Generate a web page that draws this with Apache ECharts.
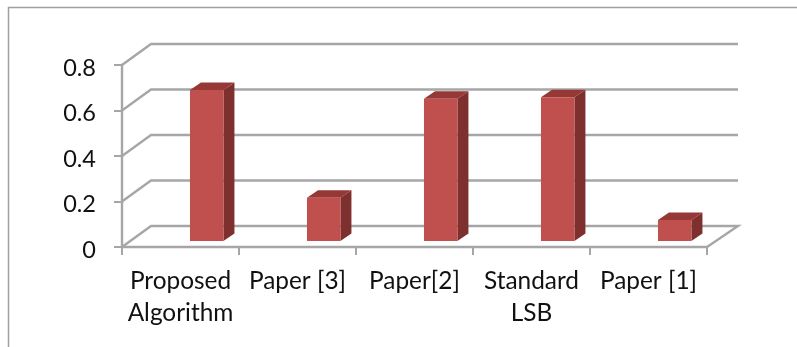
<!DOCTYPE html>
<html>
<head>
<meta charset="utf-8">
<style>html,body{margin:0;padding:0;background:#fff}#chart{width:797px;height:347px}</style>
<script src="https://cdn.jsdelivr.net/npm/echarts@6/dist/echarts.min.js"></script>
</head>
<body>
<div id="chart"></div>
<script>
const categories = ['Proposed\nAlgorithm', 'Paper [3]', 'Paper[2]', 'Standard\nLSB', 'Paper [1]'];
const values = [0.664, 0.19, 0.625, 0.632, 0.092];
const yTicks = [0, 0.2, 0.4, 0.6, 0.8];

const wallDepth = [29, -21];   // oblique offset of the back wall, px
const barDepth = [11, -7.5];   // oblique offset of a bar's rear face, px
const floorLift = 6;           // bars stand this far behind the front floor edge
const barShift = 0.081;        // front face shift within its band, as a band fraction
const barWidth = 0.286;        // front face width, as a band fraction
const lineColor = '#a6a6a6';

const chart = echarts.init(document.getElementById('chart'), null, {renderer: 'canvas'});

// Wall and floor lines: diagonal from the axis, then along the back wall
function renderWallLine(params, api) {
  const p = api.coord([0, api.value(1)]);
  const cs = params.coordSys;
  const x0 = cs.x, x1 = cs.x + cs.width;
  const points = [[x0, p[1]], [x0 + wallDepth[0], p[1] + wallDepth[1]], [x1 + wallDepth[0] + 2, p[1] + wallDepth[1]]];
  if (api.value(1) === 0) points.push([x1, p[1]]);
  return {
    type: 'polyline',
    shape: {points},
    style: {stroke: lineColor, lineWidth: 2.4, fill: null}
  };
}

// One oblique bar: front face, top face and side face
function renderBar(params, api) {
  const top = api.coord([api.value(0), api.value(1)]);
  const base = api.coord([api.value(0), 0]);
  const band = api.size([1, 0])[0];
  const w = band * barWidth;
  const l = top[0] + band * barShift;
  const r = l + w;
  const t = top[1] - floorLift;
  const b = base[1] - floorLift;
  const [dx, dy] = barDepth;
  return {
    type: 'group',
    children: [
      {type: 'polygon', shape: {points: [[r, t], [r + dx, t + dy], [r + dx, b + dy], [r, b]]}, style: {fill: '#7e302e'}},
      {type: 'polygon', shape: {points: [[l, t], [l + dx, t + dy], [r + dx, t + dy], [r, t]]}, style: {fill: '#953836'}},
      {type: 'rect', shape: {x: l, y: t, width: w, height: b - t}, style: {fill: '#c0504d'}}
    ]
  };
}

chart.setOption({
  animation: false,
  backgroundColor: '#ffffff',
  grid: {left: 122, right: 90, top: 65, bottom: 100},
  xAxis: {
    type: 'category',
    data: categories,
    axisLine: {lineStyle: {color: lineColor, width: 2.4}},
    axisTick: {show: true, alignWithLabel: false, length: 8, lineStyle: {color: lineColor, width: 2}},
    axisLabel: {
      color: '#111111',
      fontFamily: 'Lato, "Open Sans", sans-serif',
      fontSize: 24.4,
      lineHeight: 32,
      margin: 18,
      interval: 0
    }
  },
  yAxis: {
    type: 'value',
    min: 0,
    max: 0.8,
    interval: 0.2,
    splitLine: {show: false},
    axisLine: {show: true, lineStyle: {color: lineColor, width: 2.4}},
    axisTick: {show: true, length: 8, lineStyle: {color: lineColor, width: 2}},
    axisLabel: {
      color: '#111111',
      fontFamily: 'Lato, "Open Sans", sans-serif',
      fontSize: 23.5,
      margin: 26,
      verticalAlign: 'top',
      lineHeight: 6,
      formatter: v => String(v)
    }
  },
  series: [
    {
      type: 'custom',
      name: 'walls',
      coordinateSystem: 'cartesian2d',
      clip: false,
      silent: true,
      z: 1,
      encode: {x: 0, y: 1},
      data: yTicks.map(t => [0, t]),
      renderItem: renderWallLine
    },
    {
      type: 'custom',
      name: 'values',
      coordinateSystem: 'cartesian2d',
      clip: false,
      z: 2,
      encode: {x: 0, y: 1},
      data: values.map((v, i) => [i, v]),
      renderItem: renderBar
    }
  ],
  graphic: [
    {type: 'polyline', silent: true, shape: {points: [[8.5, 347], [8.5, 7.5], [797, 7.5]]}, style: {stroke: '#a0a0a0', lineWidth: 1.5, fill: null}}
  ]
});
</script>
</body>
</html>
